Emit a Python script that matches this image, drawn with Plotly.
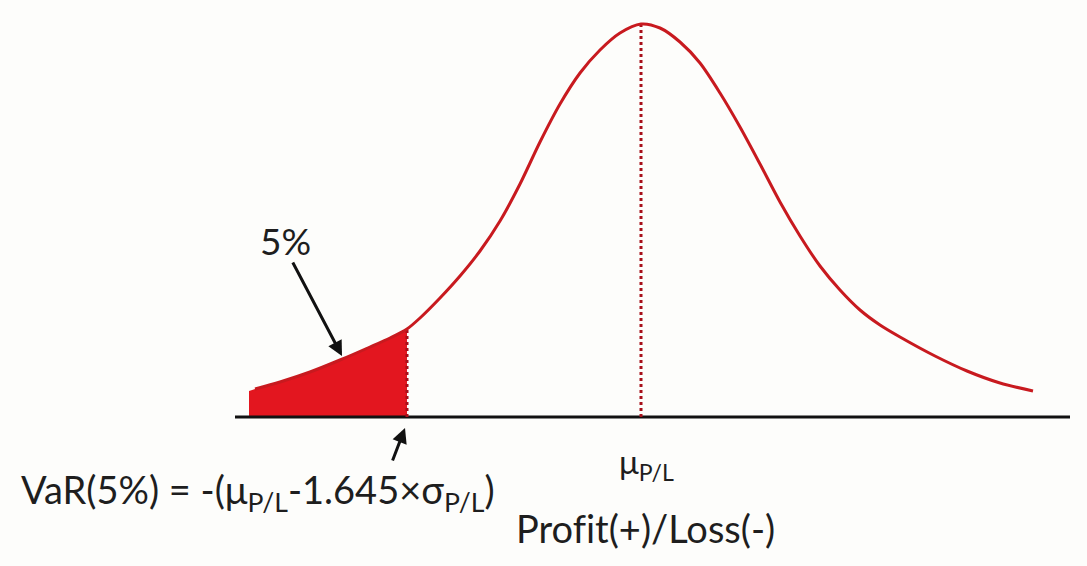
import plotly.graph_objects as go

# Curve (x position, height above baseline)
curve_x = [255, 280, 310, 340, 370, 390, 407, 420, 440, 460, 480, 500, 520, 540, 560, 580,
           600, 620, 641, 660, 680, 700, 720, 740, 760, 780, 800, 820, 840, 860, 880,
           900, 935, 967, 1000, 1033]
curve_y = [28, 35, 45, 57, 70, 79, 88, 99, 119, 141, 166, 196, 233, 275, 313, 344,
           367, 384, 393, 389, 375, 354, 324, 290, 253, 215, 181, 151, 127, 107, 92,
           80, 61, 46, 34, 26]

var_x = 407          # VaR cut-off position
var_h = 88
mean_x = 641         # mean position
mean_h = 393
axis_x = [235, 1070]
axis_y = [0, 0]

label_pct = "5%"
label_mean = "μ<sub>P/L</sub>"
label_var = "VaR(5%) = -(μ<sub>P/L</sub>-1.645×σ<sub>P/L</sub>)"
label_axis = "Prof\u200cit(+)/Loss(-)"

shade_x = [x for x in curve_x if x <= var_x]
shade_y = [y for x, y in zip(curve_x, curve_y) if x <= var_x]

RED_FILL = "#e3161f"
RED_LINE = "#c81a1f"
TXT = "#1e1e1e"
FONT = "Lato, 'Open Sans', sans-serif"

fig = go.Figure()

# shaded tail
fig.add_trace(go.Scatter(x=[shade_x[0] - 6] + shade_x, y=[shade_y[0] - 2] + shade_y,
                         mode="lines", line=dict(color=RED_FILL, width=0, shape="spline"),
                         fill="tozeroy", fillcolor=RED_FILL, hoverinfo="skip"))
# axis line
fig.add_trace(go.Scatter(x=axis_x, y=axis_y, mode="lines",
                         line=dict(color="#111111", width=3), hoverinfo="skip"))
# dotted verticals
fig.add_trace(go.Scatter(x=[var_x, var_x], y=[0, var_h], mode="lines",
                         line=dict(color="#a8101a", width=3, dash="dot"), hoverinfo="skip"))
fig.add_trace(go.Scatter(x=[mean_x, mean_x], y=[0, mean_h], mode="lines",
                         line=dict(color="#a8101a", width=3, dash="dot"), hoverinfo="skip"))
# curve
fig.add_trace(go.Scatter(x=curve_x, y=curve_y, mode="lines",
                         line=dict(color=RED_LINE, width=3, shape="spline", smoothing=0.8),
                         hoverinfo="skip"))

ann = []
ann.append(dict(x=285, y=177, text=label_pct, showarrow=False,
                font=dict(size=37, color=TXT, family=FONT)))
ann.append(dict(x=342, y=61, ax=292, ay=156, xref="x", yref="y", axref="x", ayref="y",
                text="", showarrow=True, arrowhead=2, arrowsize=1, arrowwidth=3,
                arrowcolor="#111111"))
ann.append(dict(x=405, y=-11, ax=392, ay=-45, xref="x", yref="y", axref="x", ayref="y",
                text="", showarrow=True, arrowhead=2, arrowsize=1, arrowwidth=3,
                arrowcolor="#111111"))
ann.append(dict(x=646, y=-46, text=label_mean, showarrow=False,
                font=dict(size=33, color=TXT, family=FONT)))
ann.append(dict(x=258, y=-75, text=label_var, showarrow=False,
                font=dict(size=38, color=TXT, family=FONT)))
ann.append(dict(x=645, y=-111, text=label_axis, showarrow=False,
                font=dict(size=38, color=TXT, family=FONT)))

fig.update_layout(
    width=1087, height=566,
    margin=dict(l=0, r=0, t=0, b=0),
    paper_bgcolor="#fdfdfb", plot_bgcolor="#fdfdfb",
    showlegend=False,
    xaxis=dict(range=[0, 1087], visible=False, fixedrange=True),
    yaxis=dict(range=[-149, 417], visible=False, fixedrange=True),
    annotations=ann,
)

fig.write_html("out.html")
